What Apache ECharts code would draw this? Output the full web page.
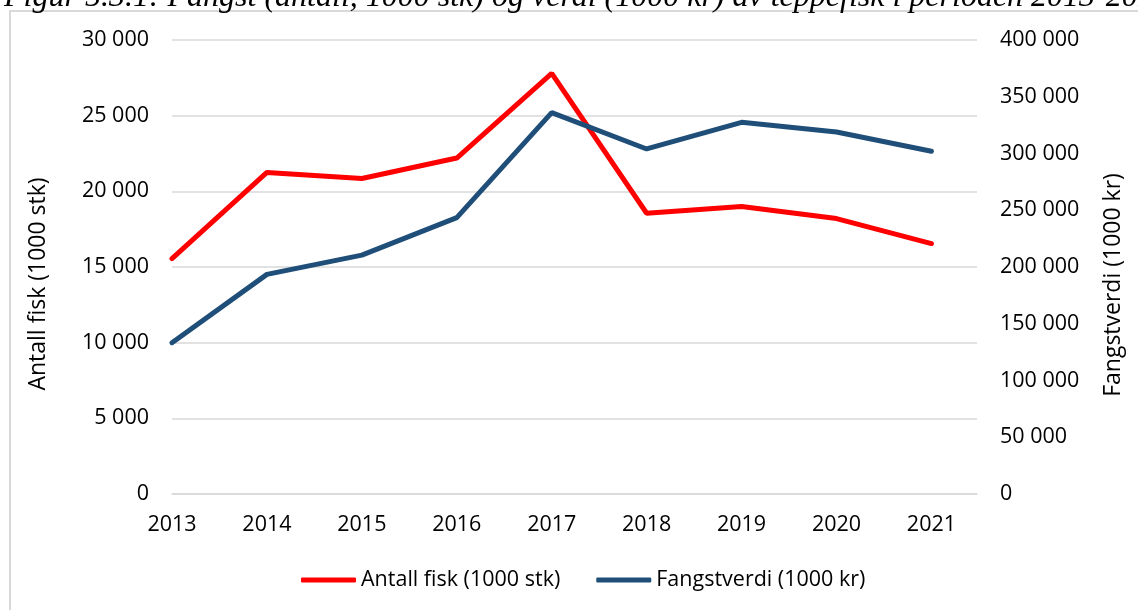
<!DOCTYPE html>
<html>
<head>
<meta charset="utf-8">
<script src="https://cdn.jsdelivr.net/npm/echarts@6/dist/echarts.min.js"></script>
<style>
  html, body { margin: 0; padding: 0; background: #fff; }
  #chart { width: 1138px; height: 610px; }
</style>
</head>
<body>
<div id="chart"></div>
<script>
var years = [2013, 2014, 2015, 2016, 2017, 2018, 2019, 2020, 2021];
var antallFisk = [15550, 21250, 20850, 22200, 27800, 18550, 19000, 18200, 16550];
var fangstverdi = [133300, 193500, 210500, 243500, 336000, 304000, 327500, 319000, 302000];

var titleText = 'Figur 5.3.1: Fangst (antall, 1000 stk) og verdi (1000 kr) av teppefisk i perioden 2013-2021';
var leftName = 'Antall fisk (1000 stk)';
var rightName = 'Fangstverdi (1000 kr)';

function spaced(v) {
    return String(v).replace(/\B(?=(\d{3})+(?!\d))/g, ' ');
}

function pairs(values) {
    return years.map(function (y, i) { return [y, values[i]]; });
}

var labelFont = {
    fontFamily: 'Open Sans',
    fontSize: 21.5,
    color: '#000'
};

var chart = echarts.init(document.getElementById('chart'));
chart.setOption({
    animation: false,
    grid: {
        left: 172,
        right: 161,
        top: 40,
        bottom: 116
    },
    legend: {
        top: 564,
        left: 296,
        icon: 'roundRect',
        itemWidth: 55,
        itemHeight: 5,
        itemGap: 36,
        textStyle: labelFont,
        data: [leftName, rightName]
    },
    xAxis: {
        type: 'value',
        min: 2013,
        max: 2021.48,
        interval: 1,
        axisLine: { show: true, lineStyle: { color: '#d9d9d9', width: 1.5 } },
        axisTick: { show: false },
        splitLine: { show: false },
        axisLabel: Object.assign({
            margin: 20,
            showMaxLabel: false,
            formatter: function (v) { return Number.isInteger(v) ? String(v) : ''; }
        }, labelFont)
    },
    yAxis: [{
        type: 'value',
        min: 0,
        max: 30000,
        interval: 5000,
        axisLine: { show: false },
        axisTick: { show: false },
        splitLine: { lineStyle: { color: '#d9d9d9', width: 1.5 } },
        axisLabel: Object.assign({ margin: 23, formatter: spaced }, labelFont)
    }, {
        type: 'value',
        min: 0,
        max: 400000,
        interval: 50000,
        axisLine: { show: false },
        axisTick: { show: false },
        splitLine: { show: false },
        axisLabel: Object.assign({ margin: 23, formatter: spaced }, labelFont)
    }],
    series: [{
        name: leftName,
        type: 'line',
        yAxisIndex: 0,
        symbol: 'none',
        color: '#ff0000',
        lineStyle: { width: 5, color: '#ff0000', cap: 'round' },
        data: pairs(antallFisk)
    }, {
        name: rightName,
        type: 'line',
        yAxisIndex: 1,
        symbol: 'none',
        color: '#1f4e79',
        lineStyle: { width: 5, color: '#1f4e79', cap: 'round' },
        data: pairs(fangstverdi)
    }],
    graphic: [{
        type: 'rect',
        shape: { x: 10, y: 11, width: 1300, height: 800 },
        style: { fill: 'none', stroke: '#d9d9d9', lineWidth: 2 },
        silent: true
    }, {
        type: 'text',
        x: 4,
        y: 14,
        style: {
            text: titleText,
            font: 'italic 32px "Liberation Serif"',
            fill: '#000',
            verticalAlign: 'bottom'
        }
    }, {
        type: 'text',
        x: 38,
        y: 284,
        rotation: Math.PI / 2,
        style: {
            text: leftName,
            font: '23px "Open Sans"',
            fill: '#000',
            align: 'center',
            verticalAlign: 'middle'
        }
    }, {
        type: 'text',
        x: 1113,
        y: 285,
        rotation: Math.PI / 2,
        style: {
            text: rightName,
            font: '23px "Open Sans"',
            fill: '#000',
            align: 'center',
            verticalAlign: 'middle'
        }
    }]
});
</script>
</body>
</html>
